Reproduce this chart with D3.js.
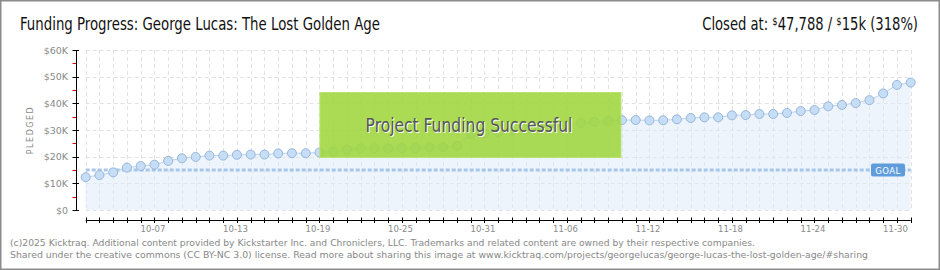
<!DOCTYPE html>
<html>
<head>
<meta charset="utf-8">
<script src="https://cdn.jsdelivr.net/npm/d3@7"></script>
<style>
body { margin: 0; background: #fff; }
svg { display: block; }
</style>
</head>
<body>
<div class="chart"></div>
<script>
// pledged totals per day, 10-02 .. 12-01
const pledged = [12300, 13100, 14100, 15900, 16500, 17000, 18400, 19400, 19900, 20400,
  20400, 20700, 20800, 20800, 21200, 21300, 21300, 21600, 21900, 22700,
  23100, 23100, 23100, 23200, 23200, 23500, 23600, 24100, 28500, 28800,
  29300, 29800, 30400, 31000, 31500, 31900, 32700, 33100, 33400, 33700,
  33750, 33600, 33650, 34000, 34500, 34750, 34750, 35500, 35600, 36000,
  36000, 36400, 37100, 37500, 38900, 39400, 40100, 41200, 43700, 46900, 47788]
const goal = 15000
const tickLabels = ['10-07','10-13','10-19','10-25','10-31','11-06','11-12','11-18','11-24','11-30']
const yTicks = [0, 10000, 20000, 30000, 40000, 50000, 60000]
const yMinor = [5000, 15000, 25000, 35000, 45000, 55000]

const days = d3.timeDays(new Date(2025, 9, 2), new Date(2025, 11, 2))
const data = days.map((d, i) => ({date: d, value: pledged[i]}))

const width = 940, height = 270

const svg = d3.select('.chart').append('svg')
  .attr('width', width)
  .attr('height', height)

svg.append('rect')
  .attr('x', 0.75).attr('y', 0.75)
  .attr('width', width - 1.5).attr('height', height - 1.5)
  .attr('fill', '#fff')
  .attr('stroke', '#8c8c8c')
  .attr('stroke-width', 1.5)

const x = d3.scaleTime()
  .domain([days[0], days[days.length - 1]])
  .range([85.7, 910.7])

const y = d3.scaleLinear()
  .domain([0, 60000])
  .range([210, 50])

const titleFont = '"DejaVu Sans Condensed", "Liberation Sans Narrow", sans-serif'
const smallFont = '"DejaVu Sans", sans-serif'

// squeeze a text horizontally to a given width
function fit(sel, w) {
  const len = sel.node().getComputedTextLength()
  const t = sel.attr('data-t')
  sel.attr('transform', `${t} scale(${w / len},1)`)
}

// grid
svg.append('g').selectAll('line')
  .data(days)
  .enter()
  .append('line')
  .attr('x1', d => Math.round(x(d)) + 0.5)
  .attr('x2', d => Math.round(x(d)) + 0.5)
  .attr('y1', y(60000))
  .attr('y2', y(0))
  .attr('stroke', '#e2e2e2')
  .attr('stroke-dasharray', '4,3')

svg.append('g').selectAll('line')
  .data(yTicks)
  .enter()
  .append('line')
  .attr('x1', x(days[0]))
  .attr('x2', x(days[days.length - 1]))
  .attr('y1', d => Math.round(y(d)) + 0.5)
  .attr('y2', d => Math.round(y(d)) + 0.5)
  .attr('stroke', '#e2e2e2')
  .attr('stroke-dasharray', '4,3')

// area + line
const area = d3.area()
  .x(d => x(d.date))
  .y0(y(0))
  .y1(d => y(d.value))

svg.append('path')
  .datum(data)
  .attr('d', area)
  .attr('fill', '#dde9f9')
  .attr('fill-opacity', 0.5)

// goal line
svg.append('line')
  .attr('x1', x(days[0]))
  .attr('x2', x(days[days.length - 1]))
  .attr('y1', y(goal))
  .attr('y2', y(goal))
  .attr('stroke', '#a8c6ea')
  .attr('stroke-width', 3)
  .attr('stroke-dasharray', '4,2')

const line = d3.line()
  .x(d => x(d.date))
  .y(d => y(d.value))

svg.append('path')
  .datum(data)
  .attr('d', line)
  .attr('fill', 'none')
  .attr('stroke', '#b9d4f1')
  .attr('stroke-width', 1)

svg.selectAll('.pt')
  .data(data)
  .enter()
  .append('circle')
  .attr('class', 'pt')
  .attr('cx', d => x(d.date))
  .attr('cy', d => y(d.value))
  .attr('r', 4.5)
  .attr('fill', '#c6ddf6')
  .attr('stroke', '#98b6da')
  .attr('stroke-width', 1)

// goal tag
const gx = 871, gy = y(goal)
svg.append('rect')
  .attr('x', gx).attr('y', gy - 6.5)
  .attr('width', 34).attr('height', 13)
  .attr('rx', 2)
  .attr('fill', '#5e9cdb')
svg.append('text')
  .attr('x', gx + 17).attr('y', gy + 3.5)
  .attr('text-anchor', 'middle')
  .attr('font-family', smallFont)
  .attr('font-size', 8.5)
  .attr('letter-spacing', 0.5)
  .attr('fill', '#fff')
  .text('GOAL')

// y axis
svg.append('line')
  .attr('x1', 76.5).attr('x2', 76.5)
  .attr('y1', y(60000)).attr('y2', y(0))
  .attr('stroke', '#000')
svg.append('g').selectAll('line')
  .data(yTicks)
  .enter()
  .append('line')
  .attr('x1', 72.5).attr('x2', 79)
  .attr('y1', d => Math.round(y(d)) + 0.5)
  .attr('y2', d => Math.round(y(d)) + 0.5)
  .attr('stroke', '#000')
svg.append('g').selectAll('line')
  .data(yMinor)
  .enter()
  .append('line')
  .attr('x1', 72.5).attr('x2', 76)
  .attr('y1', d => Math.round(y(d)) + 0.5)
  .attr('y2', d => Math.round(y(d)) + 0.5)
  .attr('stroke', '#e00')
svg.append('g').selectAll('text')
  .data(yTicks)
  .enter()
  .append('text')
  .attr('x', 68)
  .attr('y', d => y(d) + 3.5)
  .attr('text-anchor', 'end')
  .attr('font-family', smallFont)
  .attr('font-size', 9.5)
  .attr('fill', '#8a8a8a')
  .text(d => d === 0 ? '$0' : `$${d / 1000}K`)

svg.append('text')
  .attr('transform', 'translate(33,130) rotate(-90)')
  .attr('text-anchor', 'middle')
  .attr('font-family', smallFont)
  .attr('font-size', 8)
  .attr('letter-spacing', 1.5)
  .attr('fill', '#8a8a8a')
  .text('PLEDGED')

// x axis
svg.append('line')
  .attr('x1', x(days[0])).attr('x2', x(days[days.length - 1]))
  .attr('y1', 220.5).attr('y2', 220.5)
  .attr('stroke', '#000')
svg.append('g').selectAll('line')
  .data(days)
  .enter()
  .append('line')
  .attr('x1', d => Math.round(x(d)) + 0.5)
  .attr('x2', d => Math.round(x(d)) + 0.5)
  .attr('y1', 217.5).attr('y2', 223)
  .attr('stroke', '#000')

const parseTick = d3.timeParse('%Y-%m-%d')
svg.append('g').selectAll('text')
  .data(tickLabels)
  .enter()
  .append('text')
  .attr('x', d => x(parseTick('2025-' + d)) - 1.5)
  .attr('y', 231.5)
  .attr('text-anchor', 'middle')
  .attr('font-family', smallFont)
  .attr('font-size', 8.5)
  .attr('fill', '#8a8a8a')
  .text(d => d)

// success banner
const bx0 = x(parseTick('2025-10-19')) + 0.5, bx1 = x(parseTick('2025-11-10')) - 1
svg.append('rect')
  .attr('x', bx0).attr('y', 92.5)
  .attr('width', bx1 - bx0).attr('height', 65)
  .attr('fill', '#9fd63e')
  .attr('fill-opacity', 0.88)
  .attr('stroke', '#b9e36f')
  .attr('stroke-width', 1)
const bannerX = 469
const bShadow = svg.append('text')
  .attr('data-t', `translate(${bannerX + 1},133)`)
  .attr('text-anchor', 'middle')
  .attr('font-family', titleFont)
  .attr('font-size', 19)
  .attr('fill', '#fff')
  .text('Project Funding Successful')
fit(bShadow, 207)
const bText = svg.append('text')
  .attr('data-t', `translate(${bannerX},132)`)
  .attr('text-anchor', 'middle')
  .attr('font-family', titleFont)
  .attr('font-size', 19)
  .attr('fill', '#555')
  .text('Project Funding Successful')
fit(bText, 207)

// header
const title = svg.append('text')
  .attr('data-t', 'translate(20,30)')
  .attr('font-family', titleFont)
  .attr('font-size', 17)
  .attr('fill', '#111')
  .text('Funding Progress: George Lucas: The Lost Golden Age')
fit(title, 360)

const closed = svg.append('text')
  .attr('data-t', 'translate(918,30)')
  .attr('text-anchor', 'end')
  .attr('font-family', titleFont)
  .attr('font-size', 17)
  .attr('fill', '#111')
closed.append('tspan').text('Closed at:  ')
closed.append('tspan').attr('font-size', 11).attr('dy', -5).text('$')
closed.append('tspan').attr('dy', 5).text('47,788 /  ')
closed.append('tspan').attr('font-size', 11).attr('dy', -5).text('$')
closed.append('tspan').attr('dy', 5).text('15k (318%)')
fit(closed, 216)

// footer
const footer = [
  '(c)2025 Kicktraq. Additional content provided by Kickstarter Inc. and Chroniclers, LLC. Trademarks and related content are owned by their respective companies.',
  'Shared under the creative commons (CC BY-NC 3.0) license. Read more about sharing this image at www.kicktraq.com/projects/georgelucas/george-lucas-the-lost-golden-age/#sharing'
]
const footWidths = [745, 858]
svg.append('g').selectAll('text')
  .data(footer)
  .enter()
  .append('text')
  .attr('x', 10)
  .attr('y', (d, i) => 246 + i * 12)
  .attr('font-family', smallFont)
  .attr('font-size', 9.4)
  .attr('fill', '#888')
  .attr('textLength', (d, i) => footWidths[i])
  .attr('lengthAdjust', 'spacingAndGlyphs')
  .text(d => d)
</script>
</body>
</html>
